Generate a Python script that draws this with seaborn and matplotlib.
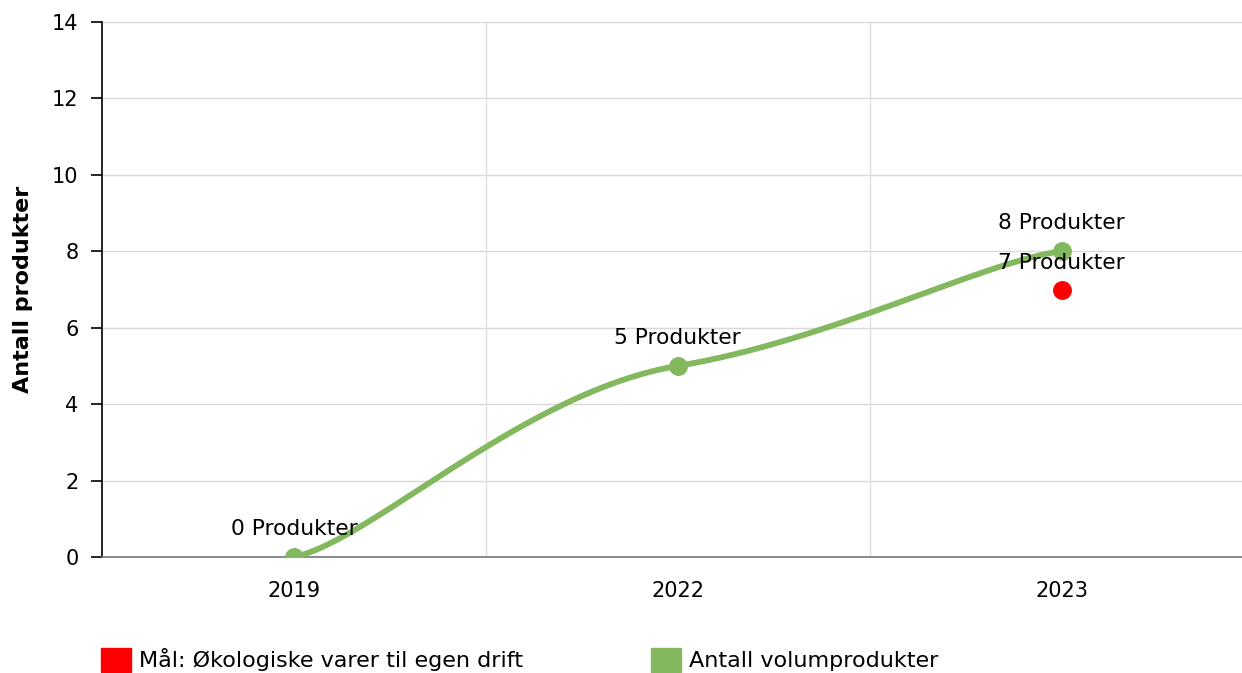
import numpy as np
import pandas as pd
import matplotlib
matplotlib.use("Agg")
import matplotlib.pyplot as plt
import seaborn as sns
from matplotlib.patches import Patch

categories = ["2019", "2022", "2023"]
volum_values = [0, 5, 8]
maal_categories = ["2023"]
maal_values = [7]
y_ticks = [0, 2, 4, 6, 8, 10, 12, 14]
series_names = ["Mål: Økologiske varer til egen drift", "Antall volumprodukter"]
green = "#83b85f"
red = "#ff0000"

sns.set_theme(style="white")
plt.rcParams["font.family"] = ["DejaVu Sans"]

fig = plt.figure(figsize=(12.42, 6.73), dpi=100)
ax = fig.add_axes([102/1242, 1-557/673, 1-102/1242, (557-22)/673])

xs = np.arange(len(categories), dtype=float)
ys = np.array(volum_values, dtype=float)

# tension-style smoothed line (separate x / y tension)
tx, ty = 1.2, 0.5
n = len(xs)
t = np.linspace(0, 1, 100)
cx, cy = [], []
for i in range(n - 1):
    p0 = np.array([xs[max(i-1, 0)], ys[max(i-1, 0)]])
    p1 = np.array([xs[i], ys[i]])
    p2 = np.array([xs[i+1], ys[i+1]])
    p3 = np.array([xs[min(i+2, n-1)], ys[min(i+2, n-1)]])
    a = p1 + (p2 - p0) / 6 * np.array([tx, ty])
    b = p2 - (p3 - p1) / 6 * np.array([tx, ty])
    bx = (1-t)**3*p1[0] + 3*(1-t)**2*t*a[0] + 3*(1-t)*t**2*b[0] + t**3*p2[0]
    by = (1-t)**3*p1[1] + 3*(1-t)**2*t*a[1] + 3*(1-t)*t**2*b[1] + t**3*p2[1]
    cx.extend(bx); cy.extend(by)
curve = pd.DataFrame({"x": cx, "y": cy})

sns.lineplot(data=curve, x="x", y="y", sort=False, color=green, linewidth=4.2, ax=ax, zorder=3)
sns.scatterplot(x=xs, y=ys, color=green, s=185, linewidth=0, ax=ax, zorder=4)
mx = np.array([categories.index(c) for c in maal_categories], dtype=float)
sns.scatterplot(x=mx, y=maal_values, color=red, s=185, linewidth=0, ax=ax, zorder=4)

for x, v in zip(xs, volum_values):
    ax.annotate(f"{v} Produkter", (x, v), xytext=(0, 16), textcoords="offset points",
                ha="center", va="baseline", fontsize=15.7, color="black", zorder=5)
for x, v in zip(mx, maal_values):
    ax.annotate(f"{v} Produkter", (x, v), xytext=(0, 15), textcoords="offset points",
                ha="center", va="baseline", fontsize=15.7, color="black", zorder=5)

ax.set_xlim(-0.5, 2.47)
ax.set_ylim(0, 14)
ax.set_xticks(xs)
ax.set_xticklabels(categories, fontsize=15)
ax.set_xticks([0.5, 1.5], minor=True)
ax.set_yticks(y_ticks)
ax.set_yticklabels([str(v) for v in y_ticks], fontsize=15)
ax.tick_params(axis="x", which="both", length=0, pad=17, colors="black")
ax.tick_params(axis="y", length=8, width=1.2, color="black", pad=9, left=True, labelcolor="black")
ax.grid(False)
ax.grid(axis="y", which="major", color="#d9d9d9", linewidth=1)
ax.grid(axis="x", which="minor", color="#e0e0e0", linewidth=1)
for s in ["top", "right"]:
    ax.spines[s].set_visible(False)
ax.spines["left"].set_color("black")
ax.spines["left"].set_linewidth(1.2)
ax.spines["bottom"].set_color("#777777")
ax.spines["bottom"].set_linewidth(1.2)
ax.set_xlabel("")
ax.set_ylabel("Antall produkter", fontsize=16, fontweight="bold", color="black")
ax.yaxis.set_label_coords(-0.0605, 0.5)

handles = [Patch(facecolor=red, edgecolor=red), Patch(facecolor=green, edgecolor=green)]
fig.legend(handles, series_names, loc="center left", bbox_to_anchor=(101/1242, 1-660/673),
           ncol=2, frameon=False, fontsize=16, handlelength=1.35, handleheight=1.35,
           handletextpad=0.36, columnspacing=5.76, borderaxespad=0, borderpad=0,
           labelcolor="black")

fig.savefig("out.png", dpi=100)
